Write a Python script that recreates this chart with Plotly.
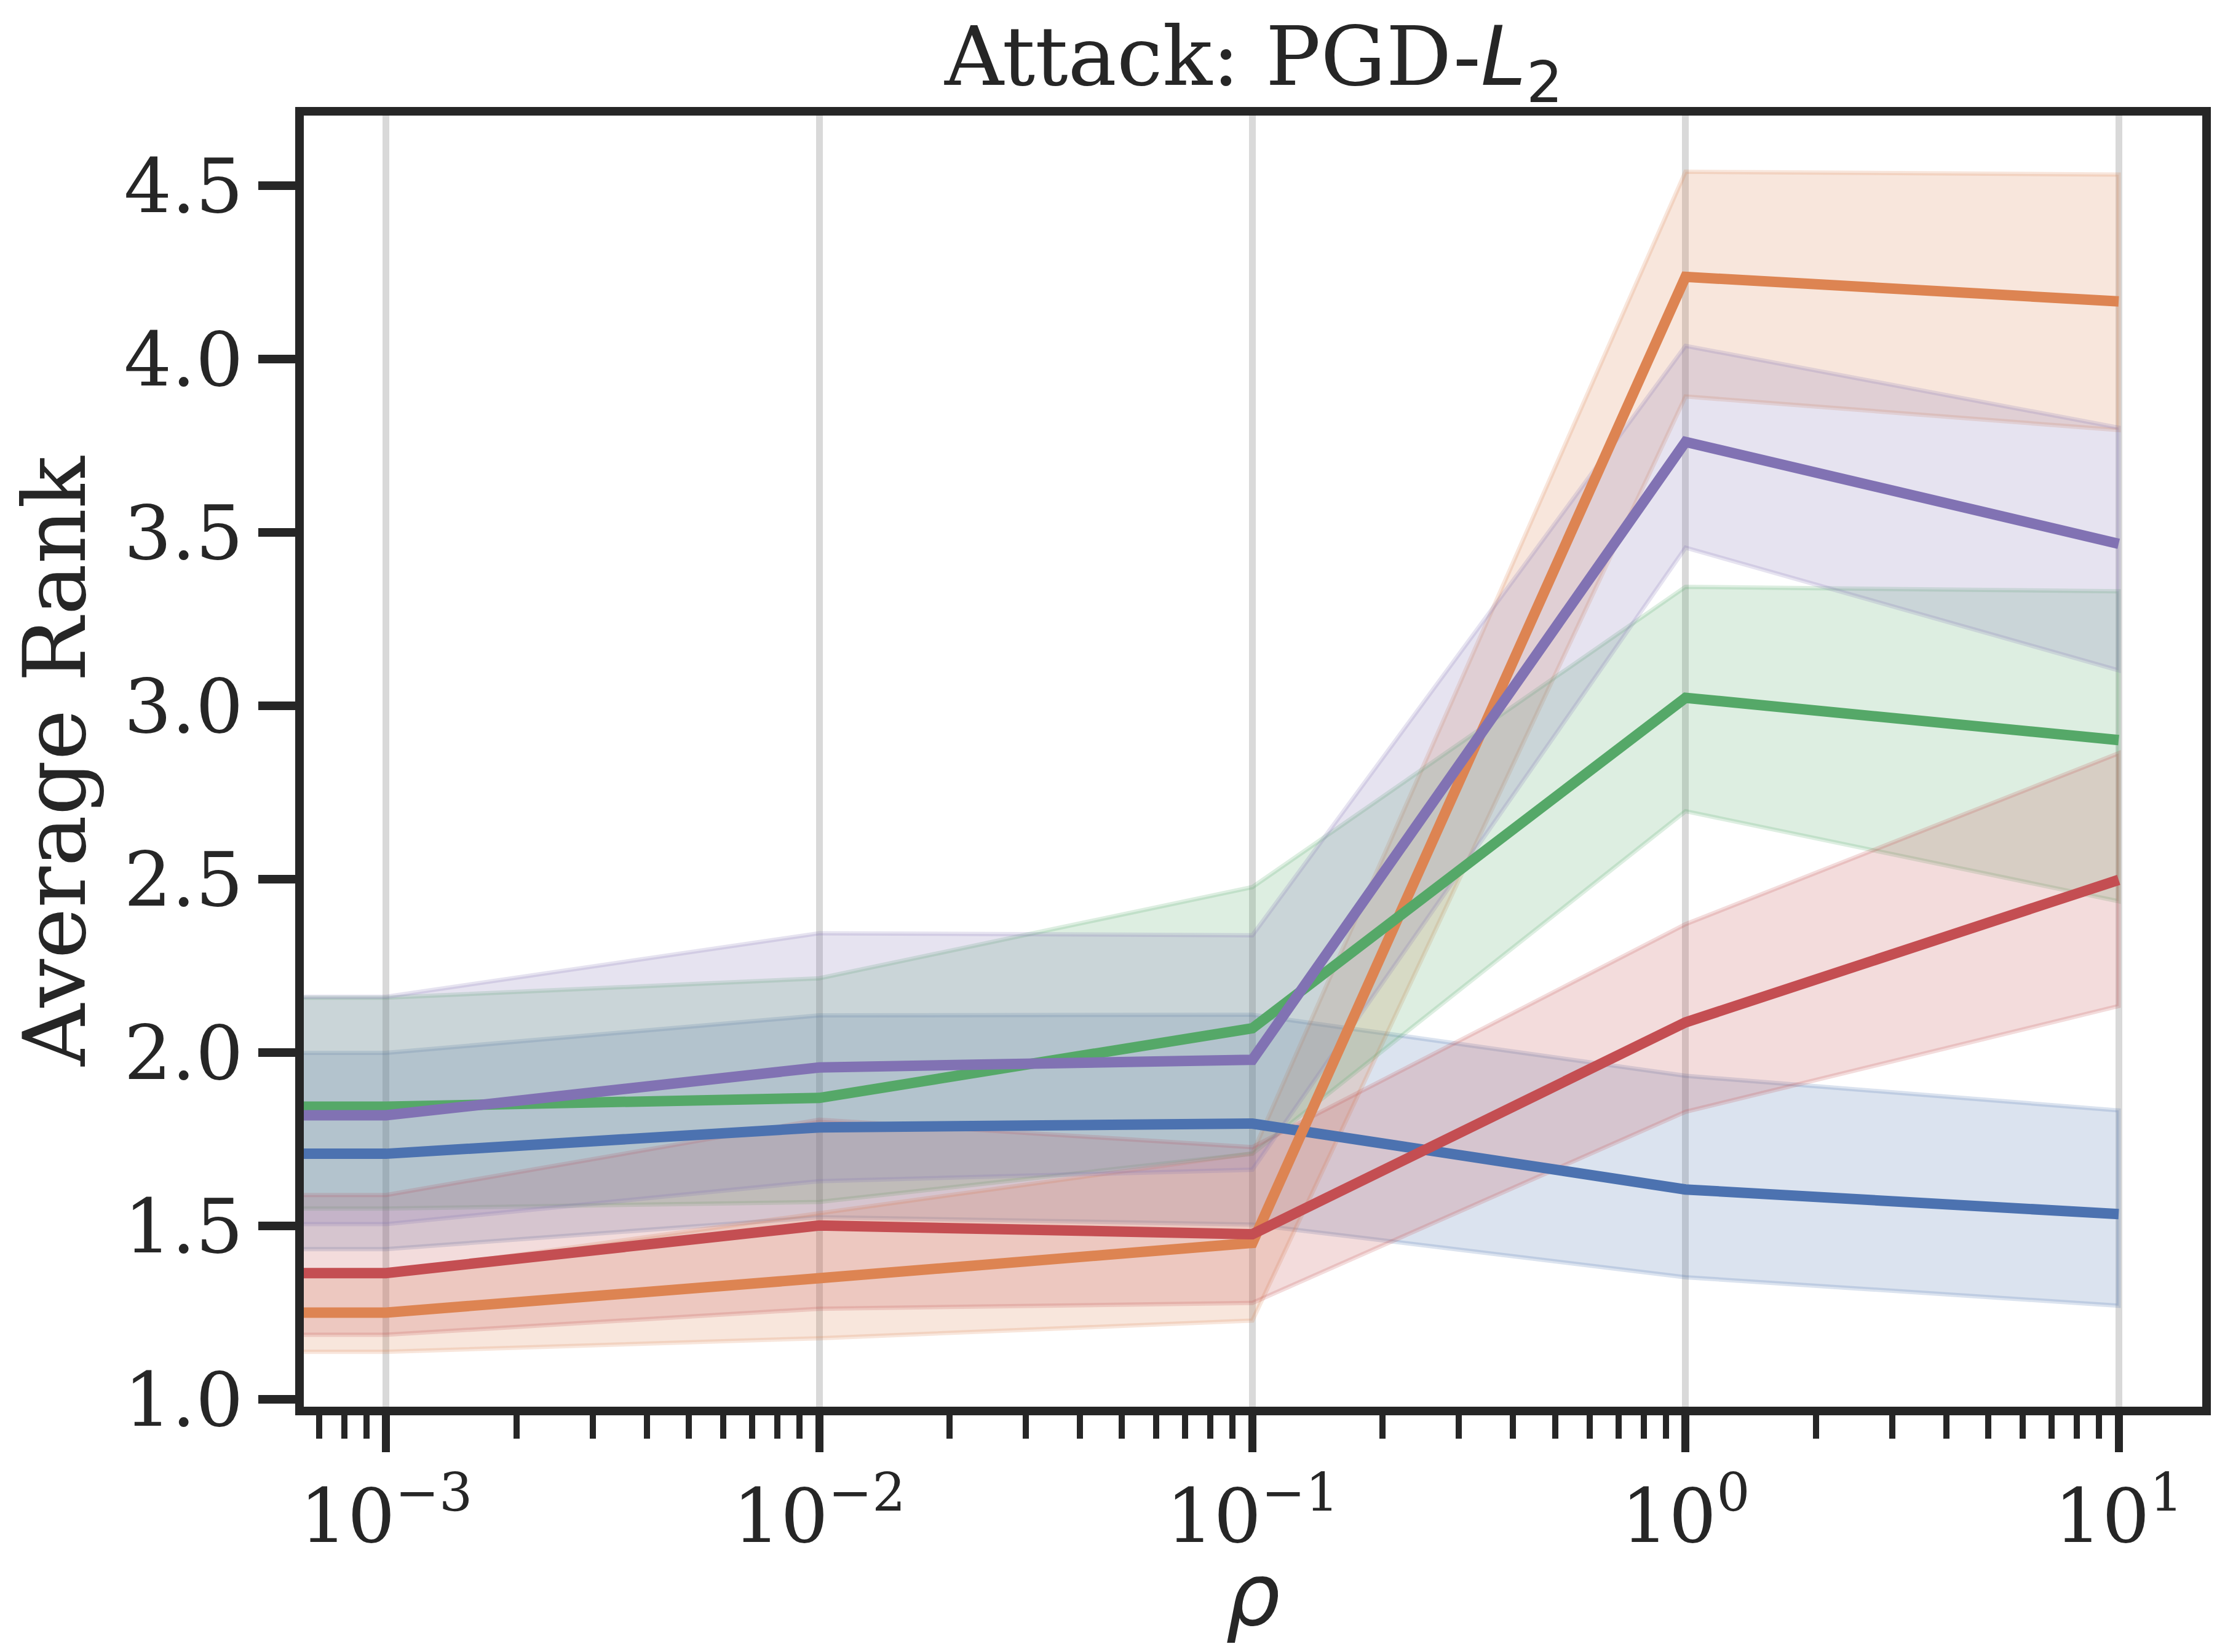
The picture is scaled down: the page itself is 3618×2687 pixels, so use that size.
import plotly.graph_objects as go

# rho = 0 is the no-regularisation run; on a log axis it sits far to the left
rho = [0, 1e-3, 1e-2, 1e-1, 1, 10]
rho_ticks = [1e-3, 1e-2, 1e-1, 1, 10]
rho_tick_labels = ['10<sup>−3</sup>', '10<sup>−2</sup>', '10<sup>−1</sup>',
                   '10<sup>0</sup>', '10<sup>1</sup>']
rank_ticks = [1.0, 1.5, 2.0, 2.5, 3.0, 3.5, 4.0, 4.5]

series_names = ['Series 1', 'Series 2', 'Series 3', 'Series 4', 'Series 5']
series_colors = ['#4C72B0', '#DD8452', '#55A868', '#C44E52', '#8172B3']

# average rank and its confidence band, one list per series
blue_mean = [1.709, 1.709, 1.785, 1.796, 1.606, 1.535]
blue_low = [1.434, 1.434, 1.526, 1.505, 1.353, 1.271]
blue_high = [2.000, 2.000, 2.108, 2.110, 1.934, 1.834]

orange_mean = [1.251, 1.251, 1.350, 1.452, 4.238, 4.167]
orange_low = [1.138, 1.138, 1.177, 1.228, 3.893, 3.796]
orange_high = [1.365, 1.365, 1.537, 1.710, 4.541, 4.533]

green_mean = [1.845, 1.845, 1.870, 2.071, 3.024, 2.902]
green_low = [1.551, 1.551, 1.570, 1.709, 2.697, 2.437]
green_high = [2.159, 2.159, 2.215, 2.478, 3.344, 3.331]

red_mean = [1.365, 1.365, 1.502, 1.477, 2.088, 2.499]
red_low = [1.187, 1.187, 1.262, 1.279, 1.830, 2.135]
red_high = [1.590, 1.590, 1.807, 1.728, 2.371, 2.864]

purple_mean = [1.820, 1.820, 1.958, 1.980, 3.762, 3.468]
purple_low = [1.506, 1.506, 1.630, 1.663, 3.457, 3.103]
purple_high = [2.162, 2.162, 2.345, 2.339, 4.039, 3.803]

TEXT = '#262626'


def rgba(hex_color, alpha):
    h = hex_color.lstrip('#')
    r, g, b = (int(h[i:i + 2], 16) for i in (0, 2, 4))
    return f'rgba({r},{g},{b},{alpha})'


def main():
    # log axis can't show 0, so push it well off the left edge
    x = [r if r > 0 else 1e-6 for r in rho]

    all_series = [
        (blue_mean, blue_low, blue_high),
        (orange_mean, orange_low, orange_high),
        (green_mean, green_low, green_high),
        (red_mean, red_low, red_high),
        (purple_mean, purple_low, purple_high),
    ]

    fig = go.Figure()
    # bands first (like matplotlib, fills sit under every line)
    for color, (mean, low, high) in zip(series_colors, all_series):
        fig.add_trace(go.Scatter(x=x + x[::-1], y=low + high[::-1],
                                 mode='lines', fill='toself',
                                 fillcolor=rgba(color, 0.2),
                                 line=dict(color=rgba(color, 0.2), width=7),
                                 showlegend=False, hoverinfo='skip'))
    for name, color, (mean, low, high) in zip(series_names, series_colors,
                                              all_series):
        fig.add_trace(go.Scatter(x=x, y=mean, mode='lines', name=name,
                                 line=dict(color=color, width=17),
                                 showlegend=False))

    minor_vals = [m * 10 ** k for k in range(-4, 1) for m in range(2, 10)]

    fig.update_layout(
        width=3618, height=2687,
        margin=dict(l=486, r=45, t=180, b=407),
        paper_bgcolor='white', plot_bgcolor='white',
        font=dict(family='DejaVu Serif', color=TEXT),
    )
    fig.add_annotation(
        text='Attack: PGD-<span style="font-family:DejaVu Sans">'
             '<i>L</i><sub>2</sub></span>',
        x=0.5, xref='paper', xanchor='center',
        y=1.0414, yref='paper', yanchor='middle', showarrow=False,
        font=dict(size=133, family='DejaVu Serif', color=TEXT))
    fig.add_annotation(
        text='<i>ρ</i>',
        x=0.5, xref='paper', xanchor='center',
        y=-0.146, yref='paper', yanchor='middle', showarrow=False,
        font=dict(size=140, family='DejaVu Sans', color=TEXT))

    fig.update_xaxes(
        type='log', range=[-3.19, 1.193],
        tickmode='array', tickvals=rho_ticks, ticktext=rho_tick_labels,
        tickfont=dict(size=122, family='DejaVu Serif', color=TEXT),
        ticks='outside', ticklen=60, tickwidth=13, tickcolor=TEXT,
        showgrid=True, gridcolor='#d9d9d9', gridwidth=11,
        showline=True, linecolor=TEXT, linewidth=14, mirror=True,
        zeroline=False,
        minor=dict(tickvals=minor_vals, ticks='outside', ticklen=38,
                   tickwidth=10, tickcolor=TEXT, showgrid=False),
    )
    fig.update_yaxes(
        range=[0.9796, 4.703],
        tickmode='array', tickvals=rank_ticks,
        ticktext=[f'{v:.1f}' for v in rank_ticks],
        tickfont=dict(size=122, family='DejaVu Serif', color=TEXT),
        ticks='outside', ticklen=60, tickwidth=14, tickcolor=TEXT,
        showgrid=False, zeroline=False,
        showline=True, linecolor=TEXT, linewidth=14, mirror=True,
        title=dict(text='Average Rank', standoff=30,
                   font=dict(size=140, family='DejaVu Serif', color=TEXT)),
    )

    fig.write_html('out.html', config={'displayModeBar': False})


if __name__ == '__main__':
    main()
